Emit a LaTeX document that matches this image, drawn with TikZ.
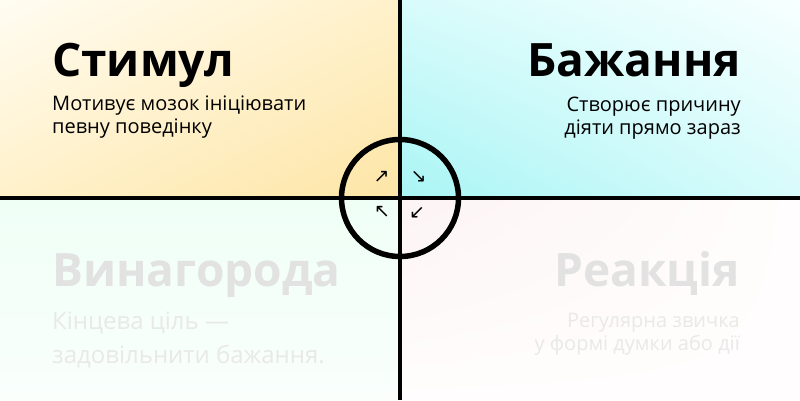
\documentclass[tikz,border=0pt]{standalone}
\usepackage{fontspec}
\usetikzlibrary{shadings}
\setmainfont{Open Sans}
\newfontfamily\arrowfont{DejaVu Sans}
\definecolor{tlA}{HTML}{FFFCF2}
\definecolor{tlB}{HTML}{FFF1CA}
\definecolor{tlC}{HTML}{FDE5A6}
\definecolor{trA}{HTML}{F7FFFF}
\definecolor{trB}{HTML}{D8FBFB}
\definecolor{trC}{HTML}{A9F5F5}
\definecolor{blA}{HTML}{FAFFFC}
\definecolor{blC}{HTML}{EFFFF6}
\definecolor{brA}{HTML}{FFFDFD}
\definecolor{brC}{HTML}{FDF4F4}
\definecolor{fadeT}{HTML}{E1E2E1}
\definecolor{fadeB}{HTML}{E8E9E8}
\tikzset{
  titlefont/.style={font=\fontsize{46}{46}\selectfont\bfseries, inner sep=0pt},
  bodytop/.style={font=\fontsize{20}{22}\selectfont, inner sep=0pt},
  bodyleft/.style={font=\fontsize{24}{26}\selectfont, inner sep=0pt, text=fadeB},
  bodyright/.style={bodytop, text=fadeB},
  fadetitle/.style={titlefont, text=fadeT},
  axisline/.style={line width=3.5pt, black},
  ringline/.style={line width=5.5pt, black},
  arrowglyph/.style={font=\arrowfont\fontsize{19}{19}\selectfont, inner sep=0pt}
}
\begin{document}
\begin{tikzpicture}[x=1pt,y=-1pt]
\useasboundingbox (0,0) rectangle (800,400);
% quadrant backgrounds
\shade[upper left=tlA, upper right=tlB, lower left=tlB, lower right=tlC] (0,0) rectangle (400,198);
\shade[upper left=trB, upper right=trA, lower left=trC, lower right=trB] (400,0) rectangle (800,198);
\shade[upper left=blC, upper right=blC, lower left=blA, lower right=blA] (0,198) rectangle (400,400);
\shade[upper left=brC, upper right=brA, lower left=brA, lower right=brA] (400,198) rectangle (800,400);
% axes
\coordinate (L) at (0,198);
\coordinate (R) at (800,198);
\coordinate (T) at (400,0);
\coordinate (B) at (400,400);
\coordinate (C) at (400,198);
\draw[axisline] (L) -- (R);
\draw[axisline] (T) -- (B);
\draw[ringline] (C) circle[radius=58.5];
% arrows
\node[arrowglyph] (a1) at (381.5,176.5) {↗};
\node[arrowglyph] (a2) at (418.5,176.5) {↘};
\node[arrowglyph] (a3) at (382,212) {↖};
\node[arrowglyph] (a4) at (417,212.5) {↙};
% top left
\node[titlefont, anchor=base west] (t1) at (52,76) {Стимул};
\node[bodytop, anchor=base west] (t1a) at (52,110) {Мотивує мозок ініціювати};
\node[bodytop, anchor=base west] (t1b) at (52,133) {певну поведінку};
% top right
\node[titlefont, anchor=base east] (t2) at (741,76) {Бажання};
\node[bodytop, anchor=base east] (t2a) at (741,111) {Створює причину};
\node[bodytop, anchor=base east] (t2b) at (741,134) {діяти прямо зараз};
% bottom left
\node[fadetitle, anchor=base west] (t3) at (52,286) {Винагорода};
\node[bodyleft, anchor=base west] (t3a) at (52,329) {Кінцева ціль —};
\node[bodyleft, anchor=base west] (t3b) at (52,363) {задовільнити бажання.};
% bottom right
\node[fadetitle, anchor=base east] (t4) at (740,286.5) {Реакція};
\node[bodyright, anchor=base east] (t4a) at (740,327.5) {Регулярна звичка};
\node[bodyright, anchor=base east] (t4b) at (740,350.5) {у формі думки або дії};
\end{tikzpicture}
\end{document}
